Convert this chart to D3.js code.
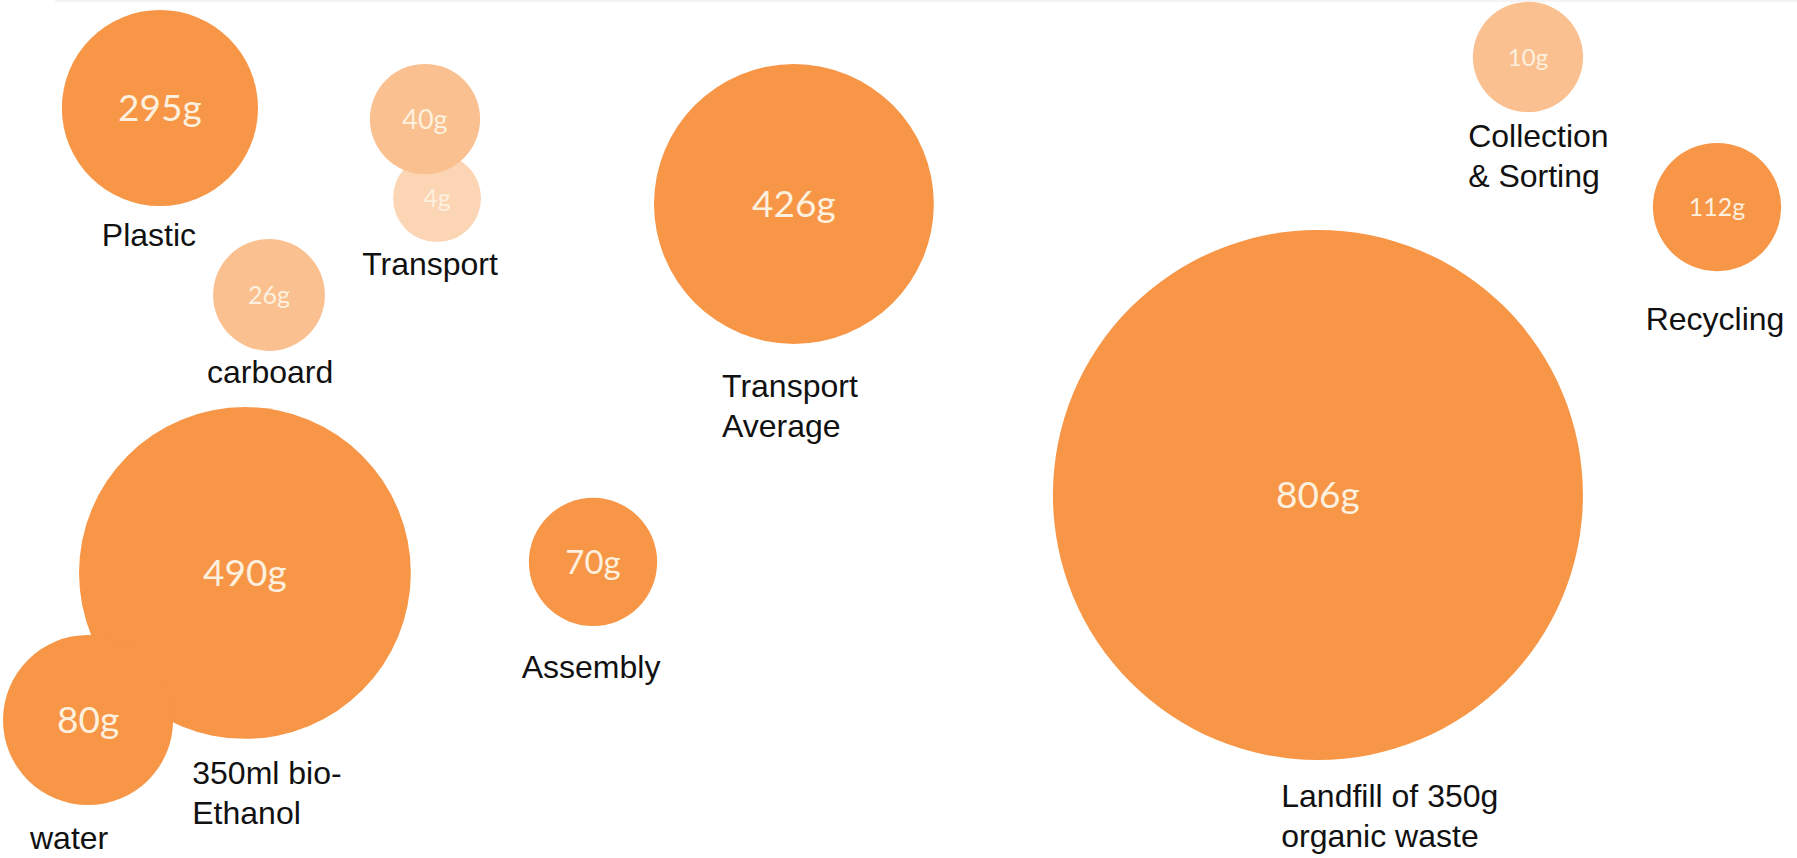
<!DOCTYPE html>
<html>
<head>
<meta charset="utf-8">
<script src="https://cdn.jsdelivr.net/npm/d3@7"></script>
<style>
  body { margin: 0; background: #fff; }
  svg { display: block; }
</style>
</head>
<body>
<svg id="bubbles"></svg>
<script>
// grams of CO2 per step, one bubble each
var grams = [295, 4, 40, 26, 426, 490, 80, 70, 806, 10, 112];
// bubble centre in percent of the canvas, size relative to the biggest bubble (100)
var bubbleX = [8.9, 24.32, 23.65, 14.97, 44.18, 13.63, 4.9, 33.0, 73.34, 85.03, 95.55];
var bubbleY = [12.59, 23.08, 13.87, 34.38, 23.78, 66.78, 83.92, 65.5, 57.69, 6.64, 24.13];
var bubbleSize = [37.0, 16.6, 20.8, 21.1, 52.8, 62.6, 32.1, 24.2, 100, 20.8, 24.2];
var shade = ["dark", "pale", "light", "light", "dark", "dark", "dark", "dark", "dark", "light", "dark"];

// step names (lines), placed in percent of the canvas
var stepNames = [
    ["Plastic"],
    ["Transport"],
    ["carboard"],
    ["Transport", "Average"],
    ["350ml bio-", "Ethanol"],
    ["water"],
    ["Assembly"],
    ["Landfill of 350g", "organic waste"],
    ["Collection", "& Sorting"],
    ["Recycling"]
];
var nameX = [8.29, 23.93, 15.03, 40.18, 10.7, 1.67, 32.89, 71.3, 81.7, 95.44];
var nameY = [28.67, 32.05, 44.64, 46.27, 91.38, 98.95, 79.02, 94.06, 17.13, 38.46];
var nameAlign = ["middle", "middle", "middle", "start", "start", "start", "middle", "start", "start", "middle"];

var w = 1797;
var h = 858;

var svg = d3.select("#bubbles")
    .attr("width", w)
    .attr("height", h);

var x = d3.scaleLinear().domain([0, 100]).range([0, w]);
var y = d3.scaleLinear().domain([0, 100]).range([0, h]);
var r = d3.scaleLinear().domain([0, 100]).range([0, 265]);
var colors = d3.scaleOrdinal()
    .domain(["dark", "light", "pale"])
    .range(["#f79646", "#fac090", "#fcd5b5"]);

// font size of the gram labels, per bubble
var valueFont = [37, 25, 27, 25, 37, 37, 37, 33, 37, 24, 25];

// faint rule along the top edge
svg.append("line")
    .attr("x1", 55).attr("x2", w)
    .attr("y1", 1).attr("y2", 1)
    .style("stroke", "#f1f1f1")
    .style("stroke-width", 1.5);

var dataset = grams.map(function (d, i) {
    return { grams: d, x: bubbleX[i], y: bubbleY[i], size: bubbleSize[i], shade: shade[i], font: valueFont[i] };
});

var bubble = svg.selectAll("g.bubble")
    .data(dataset)
    .enter()
    .append("g")
    .attr("class", "bubble")
    .attr("transform", function (d) { return "translate(" + x(d.x) + "," + y(d.y) + ")"; });

bubble.append("circle")
    .attr("r", function (d) { return r(d.size); })
    .style("fill", function (d) { return colors(d.shade); });

bubble.append("text")
    .attr("text-anchor", "middle")
    .attr("dy", "0.36em")
    .style("font-family", "Lato, 'Open Sans', sans-serif")
    .style("font-size", function (d) { return d.font + "px"; })
    .style("fill", "#fdf0de")
    .text(function (d) { return d.grams + "g"; });

// step names
var names = svg.selectAll("text.name")
    .data(stepNames)
    .enter()
    .append("text")
    .attr("class", "name")
    .attr("x", function (d, i) { return x(nameX[i]); })
    .attr("y", function (d, i) { return y(nameY[i]); })
    .attr("text-anchor", function (d, i) { return nameAlign[i]; })
    .style("font-family", "'Liberation Sans', Arial, sans-serif")
    .style("font-size", "32px")
    .style("fill", "#111");

names.selectAll("tspan")
    .data(function (d, i) { return d.map(function (line) { return { line: line, i: i }; }); })
    .enter()
    .append("tspan")
    .attr("x", function (d) { return x(nameX[d.i]); })
    .attr("dy", function (d, j) { return j === 0 ? 0 : "1.25em"; })
    .text(function (d) { return d.line; });
</script>
</body>
</html>
